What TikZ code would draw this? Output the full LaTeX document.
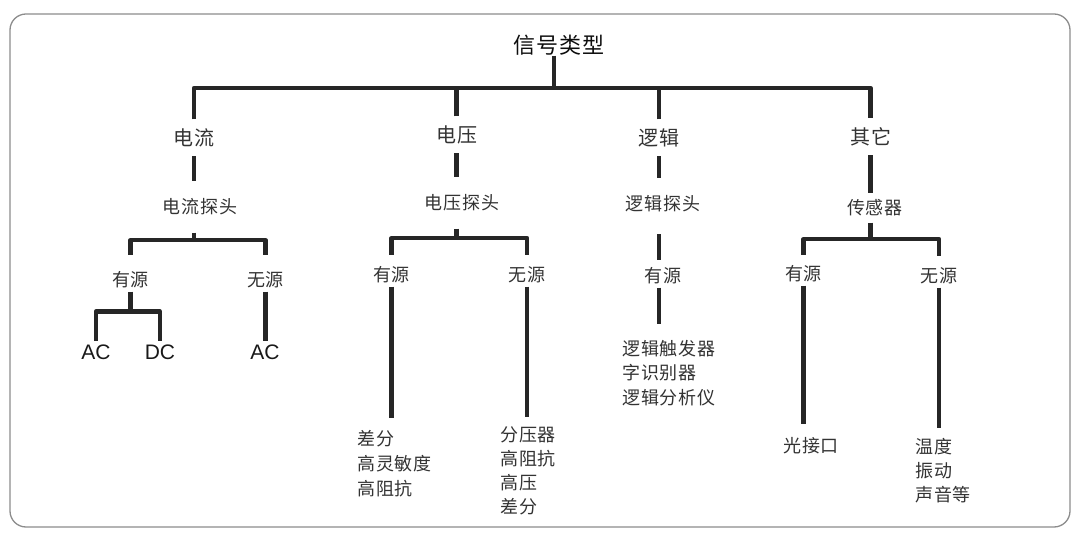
\documentclass[tikz,border=0pt]{standalone}
\usepackage{fontspec}
\setmainfont{Noto Sans CJK SC}[LetterSpace=5]
\newfontfamily\acdcfont{Liberation Sans}
\begin{document}
\begin{tikzpicture}[x=1pt,y=-1pt,
    link/.style={line width=4.3pt,draw=black!85,line join=round},
    lab/.style={inner sep=0pt,text=black!80},
    titlebox/.style={lab,text=black!95,text height=18.7pt,text depth=2.2pt,font=\fontsize{22}{26}\selectfont},
    kind/.style={lab,outer ysep=9pt,text height=17pt,text depth=2pt,font=\fontsize{20}{24}\selectfont},
    probe/.style={lab,outer ysep=17pt,text height=15.3pt,text depth=1.8pt,font=\fontsize{18}{22}\selectfont},
    src/.style={lab,outer ysep=3pt,text height=15.3pt,text depth=1.8pt,font=\fontsize{18}{22}\selectfont},
    acdc/.style={lab,outer ysep=1pt,text=black!90,text height=17.85pt,text depth=2.1pt,font=\acdcfont\fontsize{21}{24}\selectfont},
    leaf/.style={inner sep=0pt,anchor=north west,align=left,text=black!80,font=\fontsize{18}{#1}\selectfont},
    leaf/.default=24]
    % frame
    \useasboundingbox (0,0) rectangle (1080,534);
    \draw[black!45,line width=1.3pt,rounded corners=16pt] (10,14) rectangle (1070,527);
    % root
    \node[titlebox] (sig) at (559,45) {信号类型};
    \coordinate (bus) at (554,88);
    % signal kinds
    \node[kind] (cur) at (194,138) {电流};
    \node[kind] (vol) at (456.5,135) {电压};
    \node[kind] (lgc) at (659,138) {逻辑};
    \node[kind] (oth) at (870.5,137) {其它};
    \draw[link] (sig.south -| bus) -- (bus);
    \draw[link] (cur.north) |- (bus) -| (oth.north);
    \draw[link] (vol.north) -- (vol |- bus);
    \draw[link] (lgc.north) -- (lgc |- bus);
    % probes
    \node[probe] (curp) at (200,207) {电流探头};
    \node[probe] (volp) at (462,203) {电压探头};
    \node[probe] (lgcp) at (663,204) {逻辑探头};
    \node[probe,outer ysep=6pt] (othp) at (875,208) {传感器};
    \draw[link] (cur.south) -- (cur |- curp.north);
    \draw[link] (vol.south) -- (vol |- volp.north);
    \draw[link] (lgc.south) -- (lgc |- lgcp.north);
    \draw[link] (oth.south) -- (oth |- othp.north);
    % active / passive
    \node[src] (cura) at (130.5,280) {有源};
    \node[src] (curn) at (265.5,280) {无源};
    \node[src] (vola) at (391.5,275) {有源};
    \node[src] (voln) at (527,275) {无源};
    \node[src] (lgca) at (663,276) {有源};
    \node[src] (otha) at (803.5,274) {有源};
    \node[src] (othn) at (939,276) {无源};
    \draw[link] (cur |- curp.south) -- ++(0,7.5) coordinate (curj);
    \draw[link,shorten <=13.5pt,shorten >=13.5pt] (cura.north) |- (curj) -| (curn.north);
    \draw[link] (vol |- volp.south) -- ++(0,9.5) coordinate (volj);
    \draw[link,shorten <=8.5pt,shorten >=8.5pt] (vola.north) |- (volj) -| (voln.north);
    \draw[link,shorten <=4.5pt,shorten >=4.5pt] (lgc |- lgcp.south) -- (lgc |- lgca.north);
    \draw[link] (oth |- othp.south) -- ++(0,16.5) coordinate (othj);
    \draw[link,shorten <=7.5pt,shorten >=8.5pt] (otha.north) |- (othj) -| (othn.north);
    % leaves
    \node[acdc] (ac1) at (96,352) {AC};
    \node[acdc] (dc1) at (160,352) {DC};
    \node[acdc] (ac2) at (265,352) {AC};
    \draw[link] (cura.south) -- ++(0,20) coordinate (curaj);
    \draw[link] (ac1.north) |- (curaj) -| (dc1.north);
    \draw[link] (curn.south) -- (curn |- ac2.north);
    \node[leaf=25] (voll) at (357,430) {差分\\高灵敏度\\高阻抗};
    \node[leaf=23.7] (volnl) at (500,427) {分压器\\高阻抗\\高压\\差分};
    \node[leaf=24.5] (lgcl) at (622,340) {逻辑触发器\\字识别器\\逻辑分析仪};
    \node[leaf] (othal) at (783,437) {光接口};
    \node[leaf] (othnl) at (915,438) {温度\\振动\\声音等};
    \draw[link,shorten >=12pt] (vola.south) -- (vola |- voll.north);
    \draw[link,shorten >=10pt] (voln.south) -- (voln |- volnl.north);
    \draw[link,shorten >=16pt] (lgc |- lgca.south) -- (lgc |- lgcl.north);
    \draw[link,shorten >=13pt] (otha.south) -- (otha |- othal.north);
    \draw[link,shorten >=10pt] (othn.south) -- (othn |- othnl.north);
\end{tikzpicture}
\end{document}
